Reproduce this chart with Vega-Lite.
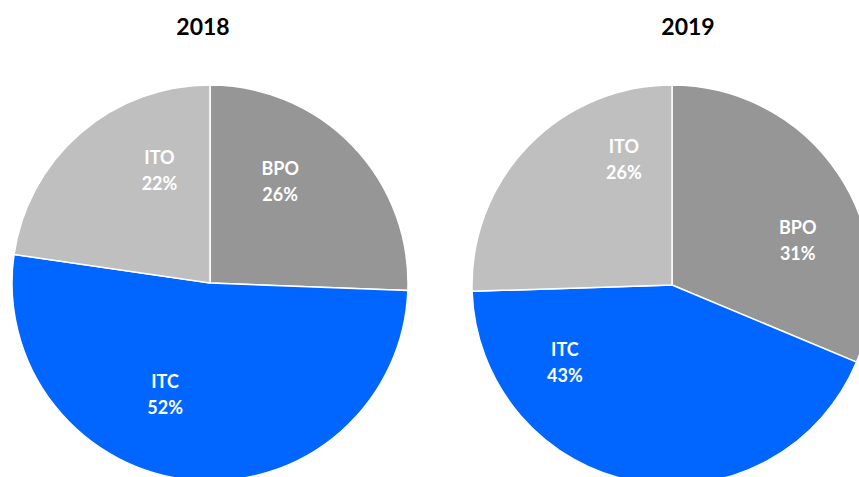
{
  "$schema": "https://vega.github.io/schema/vega-lite/v6.json",
  "background": "white",
  "padding": {"left": 9, "top": 17, "right": 0, "bottom": 0},
  "config": {
    "view": {"stroke": null},
    "title": {"font": "Lato", "fontSize": 23, "fontWeight": "bold", "color": "#000000", "anchor": "middle", "offset": 42}
  },
  "datasets": {
    "shares": [
      {"year": "2018", "cat": "BPO", "value": 25.6},
      {"year": "2018", "cat": "ITC", "value": 51.7},
      {"year": "2018", "cat": "ITO", "value": 22.7},
      {"year": "2019", "cat": "BPO", "value": 31.3},
      {"year": "2019", "cat": "ITC", "value": 43.2},
      {"year": "2019", "cat": "ITO", "value": 25.5}
    ],
    "labels": [
      {"year": "2018", "cat": "BPO", "label": "BPO\n26%", "labelAt": 9.75},
      {"year": "2018", "cat": "ITC", "label": "ITC\n52%", "labelAt": 56.0},
      {"year": "2018", "cat": "ITO", "label": "ITO\n22%", "labelAt": 93.2},
      {"year": "2019", "cat": "BPO", "label": "BPO\n31%", "labelAt": 19.7},
      {"year": "2019", "cat": "ITC", "label": "ITC\n43%", "labelAt": 64.9},
      {"year": "2019", "cat": "ITO", "label": "ITO\n26%", "labelAt": 94.1}
    ]
  },
  "spacing": 58,
  "hconcat": [
    {
      "width": 396,
      "height": 396,
      "title": {"text": "2018", "dx": -7},
      "layer": [
        {
          "data": {"name": "shares"},
          "transform": [{"filter": "datum.year === '2018'"}],
          "mark": {"type": "arc", "stroke": "white", "strokeWidth": 1.5},
          "encoding": {
            "theta": {"field": "value", "type": "quantitative", "stack": true, "scale": {"domain": [0, 100]}},
            "color": {"field": "cat", "type": "nominal", "legend": null,
              "scale": {"domain": ["BPO", "ITC", "ITO"], "range": ["#969696", "#0066FF", "#BFBFBF"]}},
            "order": {"field": "cat", "type": "nominal", "sort": "ascending"}
          }
        },
        {
          "data": {"name": "labels"},
          "transform": [{"filter": "datum.year === '2018'"}],
          "mark": {"type": "text", "radius": 122, "dy": -13, "font": "Lato", "fontSize": 18, "fontWeight": "bold", "color": "white", "align": "center", "baseline": "middle", "lineBreak": "\n", "lineHeight": 26},
          "encoding": {
            "theta": {"field": "labelAt", "type": "quantitative", "stack": null, "scale": {"domain": [0, 100]}},
            "text": {"field": "label", "type": "nominal"}
          }
        }
      ]
    },
    {
      "width": 400,
      "height": 400,
      "title": {"text": "2019", "dx": 16},
      "layer": [
        {
          "data": {"name": "shares"},
          "transform": [{"filter": "datum.year === '2019'"}],
          "mark": {"type": "arc", "stroke": "white", "strokeWidth": 1.5},
          "encoding": {
            "theta": {"field": "value", "type": "quantitative", "stack": true, "scale": {"domain": [0, 100]}},
            "color": {"field": "cat", "type": "nominal", "legend": null,
              "scale": {"domain": ["BPO", "ITC", "ITO"], "range": ["#969696", "#0066FF", "#BFBFBF"]}},
            "order": {"field": "cat", "type": "nominal", "sort": "ascending"}
          }
        },
        {
          "data": {"name": "labels"},
          "transform": [{"filter": "datum.year === '2019'"}],
          "mark": {"type": "text", "radius": 133, "dy": -13, "font": "Lato", "fontSize": 18, "fontWeight": "bold", "color": "white", "align": "center", "baseline": "middle", "lineBreak": "\n", "lineHeight": 26},
          "encoding": {
            "theta": {"field": "labelAt", "type": "quantitative", "stack": null, "scale": {"domain": [0, 100]}},
            "text": {"field": "label", "type": "nominal"}
          }
        }
      ]
    }
  ]
}
